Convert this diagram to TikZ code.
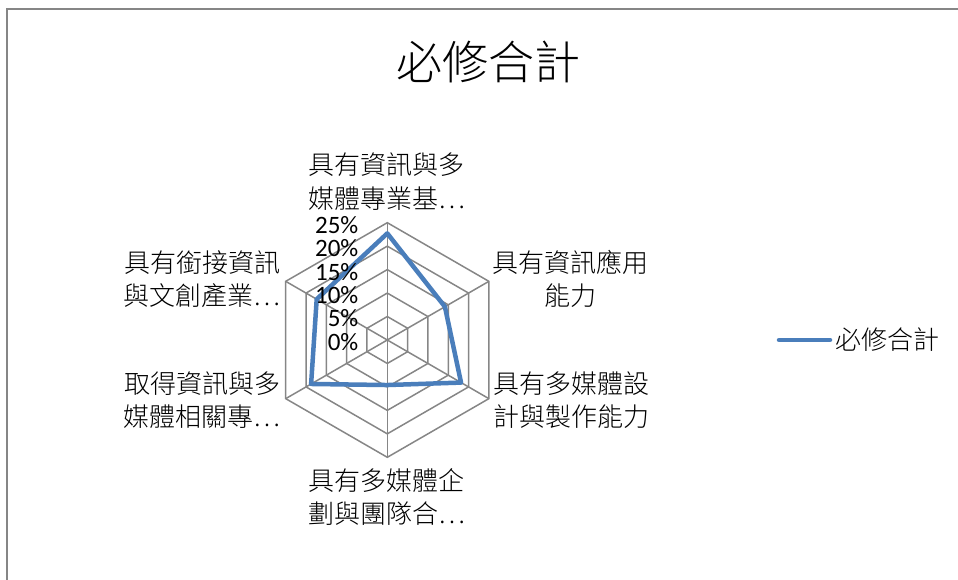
\documentclass[tikz,border=0pt]{standalone}
\usepackage{fontspec}
\newfontfamily\cjk{Noto Sans CJK TC Light}
\newfontfamily\pctfont{Carlito}
\definecolor{gridgray}{HTML}{868686}
\definecolor{serblue}{HTML}{4A7EBB}
\begin{document}
\begin{tikzpicture}[x=1pt,y=1pt,
  lab/.style={font=\cjk\fontsize{26}{33.5}\selectfont, align=center, inner sep=0pt, text=black},
  pct/.style={font=\pctfont\fontsize{25}{25}\selectfont, anchor=east, inner sep=0pt, text=black},
  gridline/.style={draw=gridgray, line width=1.5pt},
  ser/.style={draw=serblue, line width=4.5pt, line join=round, line cap=round}]
\useasboundingbox (0,0) rectangle (958,580);
\draw[gridgray, line width=2pt] (7,-2) -- (7,571) -- (960,571);
% title
\node[font=\cjk\fontsize{46}{46}\selectfont, inner sep=0pt] (title) at (488,518) {必修合計};
% radar grid
\coordinate (c) at (387.3,240);
\begin{scope}[shift={(c)}]
  \foreach \k in {1,...,5}{
    \draw[gridline] (90:\k*23.46) -- (30:\k*23.46) -- (-30:\k*23.46) -- (-90:\k*23.46) -- (-150:\k*23.46) -- (150:\k*23.46) -- cycle;
  }
  \foreach \a in {90,30,-30,-90,-150,150}{
    \draw[gridline] (0,0) -- (\a:117.3);
  }
  \coordinate (d1) at (90:0.909*117.3);
  \coordinate (d2) at (30:0.567*117.3);
  \coordinate (d3) at (-30:0.726*117.3);
  \coordinate (d4) at (-90:0.384*117.3);
  \coordinate (d5) at (-150:0.75*117.3);
  \coordinate (d6) at (150:0.695*117.3);
\end{scope}
\draw[ser] (d1) -- (d2) -- (d3) -- (d4) -- (d5) -- (d6) -- cycle;
% percent labels
\node[pct] (p0) at (358.5,238) {0\%};
\node[pct] (p5) at (358.5,261.5) {5\%};
\node[pct] (p10) at (358.5,285) {10\%};
\node[pct] (p15) at (358.5,308.4) {15\%};
\node[pct] (p20) at (358.5,331.8) {20\%};
\node[pct] (p25) at (358.5,355.3) {25\%};
% category labels
\node[lab] (cat1) at (386.5,398.5) {具有資訊與多\\媒體專業基…};
\node[lab] (cat2) at (570.5,301) {具有資訊應用\\能力};
\node[lab] (cat3) at (571.5,180) {具有多媒體設\\計與製作能力};
\node[lab] (cat4) at (386.5,83) {具有多媒體企\\劃與團隊合…};
\node[lab] (cat5) at (202,180) {取得資訊與多\\媒體相關專…};
\node[lab] (cat6) at (202,301) {具有銜接資訊\\與文創產業…};
% legend
\coordinate (l1) at (779,240);
\coordinate (l2) at (830,240);
\draw[serblue, line width=4.5pt, line cap=round] (l1) -- (l2);
\node[lab, anchor=west] (legtext) at (835,240) {必修合計};
\end{tikzpicture}
\end{document}
